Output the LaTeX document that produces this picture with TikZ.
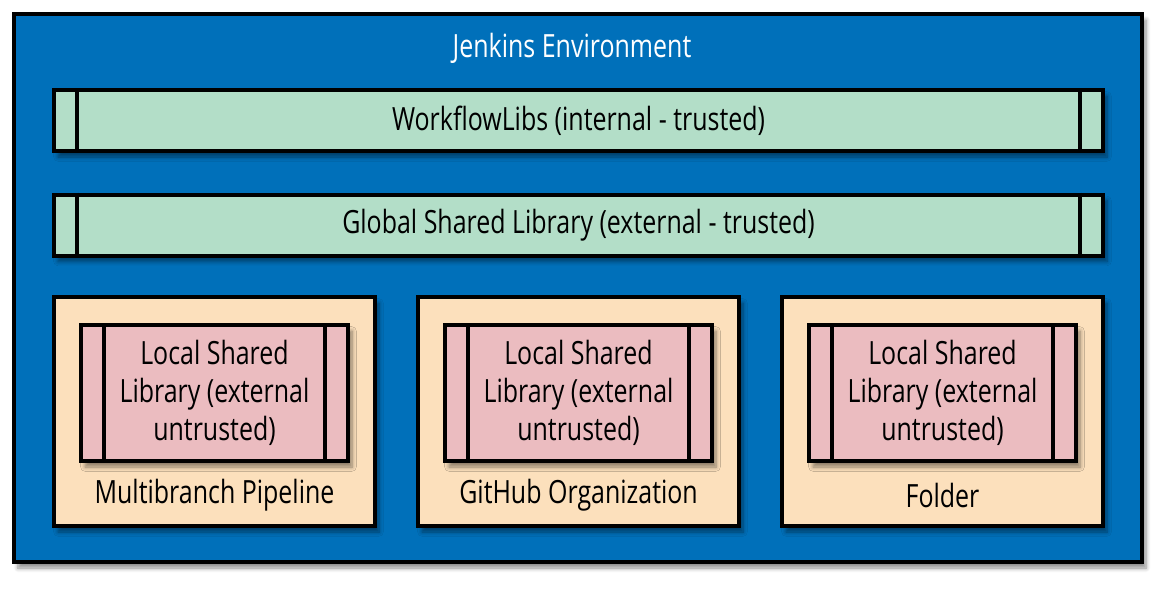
\documentclass[tikz,border=0pt]{standalone}
\usepackage{fontspec}
\setmainfont{Open Sans}[FakeStretch=0.78]
\usetikzlibrary{shadows.blur}

\definecolor{jenkinsblue}{HTML}{0070BA}
\definecolor{trustgreen}{HTML}{B3DEC8}
\definecolor{folderpeach}{HTML}{FCE0BC}
\definecolor{localpink}{HTML}{EBBCC0}

\tikzset{
  box/.style={draw=black,line width=2pt,rectangle,inner sep=0pt,
    blur shadow={shadow xshift=2pt,shadow yshift=-3pt,shadow blur steps=6,shadow opacity=45}},
  globallib/.style={box,fill=trustgreen,minimum width=524.5pt,minimum height=30.5pt,font=\fontsize{16}{19}\selectfont},
  container/.style={box,fill=folderpeach,minimum width=160.5pt,minimum height=114.5pt},
  locallib/.style={box,fill=localpink,minimum width=133.5pt,minimum height=68pt,align=center,font=\fontsize{16}{19}\selectfont},
  caption/.style={font=\fontsize{16}{19}\selectfont},
}
\newcommand\sidebars[1]{%
  \draw[line width=2pt] ([xshift=12.5pt]#1.north west) -- ([xshift=12.5pt]#1.south west);
  \draw[line width=2pt] ([xshift=-12.5pt]#1.north east) -- ([xshift=-12.5pt]#1.south east);
}

\begin{document}
\begin{tikzpicture}[x=0.5pt,y=-0.5pt]
\useasboundingbox (0,0) rectangle (1170,590);
\node[box,fill=jenkinsblue,minimum width=564pt,minimum height=274pt] (env) at (578,288) {};
\node[caption,text=white] (envlabel) at (572,48) {Jenkins Environment};

\node[globallib] (workflow) at (578.5,120.5) {WorkflowLibs (internal - trusted)};
\sidebars{workflow}
\node[globallib] (global) at (578.5,225) {Global Shared Library (external - trusted)};
\sidebars{global}

% containers with their local libraries
\foreach \x/\name/\label in {214.5/multi/Multibranch Pipeline,578.5/github/GitHub Organization,942.5/folder/Folder}{
  \node[container] (\name) at (\x,411.5) {};
  \node[caption] (\name-label) at (\x,495) {\label};
  \node[locallib] (\name-lib) at (\x,393) {Local Shared\\Library (external\\untrusted)};
  \sidebars{\name-lib}
}
\end{tikzpicture}
\end{document}
